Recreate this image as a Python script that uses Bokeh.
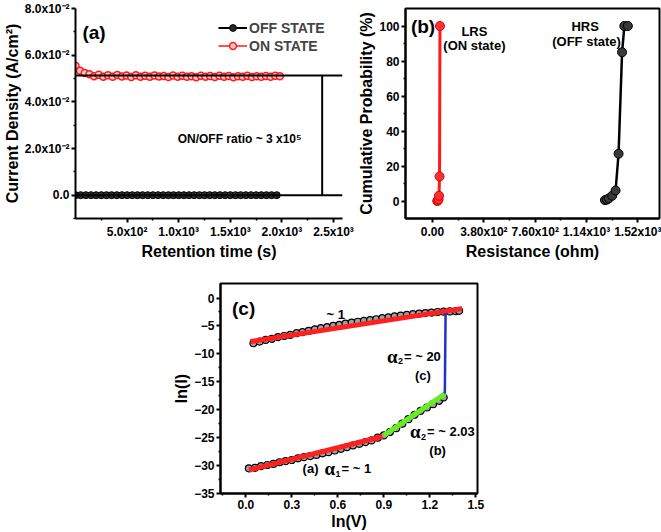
from bokeh.plotting import figure
from bokeh.layouts import column, row
from bokeh.models import FixedTicker, Label, Legend, LegendItem, Spacer, Range1d, Span
from bokeh.embed import file_html
from bokeh.resources import INLINE

SANS = "Liberation Sans"
SERIF = "Liberation Serif"

# ---------------- (a) retention data ----------------
a_time_on = [0, 45, 90, 135, 180, 225, 270, 315, 360, 405, 450, 495, 540, 585, 630,
             675, 720, 765, 810, 855, 900, 945, 990, 1035, 1080, 1125, 1170, 1215,
             1260, 1305, 1350, 1395, 1440, 1485, 1530, 1575, 1620, 1665, 1710, 1755,
             1800, 1845, 1890, 1935, 1980]
a_j_on = [0.0555, 0.0533, 0.0524, 0.0518, 0.0510, 0.0516, 0.0508, 0.0514, 0.0507,
          0.0515, 0.0509, 0.0513, 0.0506, 0.0514, 0.0508, 0.0512, 0.0507, 0.0513,
          0.0509, 0.0511, 0.0506, 0.0513, 0.0508, 0.0512, 0.0507, 0.0510, 0.0505,
          0.0512, 0.0508, 0.0511, 0.0506, 0.0512, 0.0507, 0.0511, 0.0505, 0.0510,
          0.0507, 0.0512, 0.0506, 0.0510, 0.0508, 0.0511, 0.0507, 0.0512, 0.0510]
a_time_off = [0, 50, 100, 150, 200, 250, 300, 350, 400, 450, 500, 550, 600, 650, 700,
              750, 800, 850, 900, 950, 1000, 1050, 1100, 1150, 1200, 1250, 1300, 1350,
              1400, 1450, 1500, 1550, 1600, 1650, 1700, 1750, 1800, 1850, 1900, 1950]
a_j_off = [1.8e-7, 1.7e-7, 1.7e-7, 1.6e-7, 1.7e-7, 1.7e-7, 1.6e-7, 1.7e-7, 1.7e-7,
           1.6e-7, 1.7e-7, 1.7e-7, 1.6e-7, 1.7e-7, 1.7e-7, 1.6e-7, 1.7e-7, 1.7e-7,
           1.6e-7, 1.7e-7, 1.7e-7, 1.6e-7, 1.7e-7, 1.7e-7, 1.6e-7, 1.7e-7, 1.7e-7,
           1.6e-7, 1.7e-7, 1.7e-7, 1.6e-7, 1.7e-7, 1.7e-7, 1.6e-7, 1.7e-7, 1.7e-7,
           1.6e-7, 1.7e-7, 1.7e-7, 1.7e-7]
a_on_level = 0.0513
a_off_level = 0.0
a_ratio_time = 2390
a_xticks = [500, 1000, 1500, 2000, 2500]
a_xtick_labels = ["5.0x10²", "1.0x10³", "1.5x10³", "2.0x10³", "2.5x10³"]
a_xminor = [250, 750, 1250, 1750, 2250]
a_yticks = [0.0, 0.02, 0.04, 0.06, 0.08]
a_ytick_labels = ["0.0", "2.0x10⁻²", "4.0x10⁻²", "6.0x10⁻²", "8.0x10⁻²"]
a_yminor = [-0.01, 0.01, 0.03, 0.05, 0.07]

# ---------------- (b) cumulative probability ----------------
b_lrs_res = [35, 40, 45, 48, 52, 55]
b_lrs_prob = [0, 0.3, 1, 3, 14, 100]
b_hrs_res = [1276, 1290, 1305, 1330, 1355, 1377, 1403, 1420, 1446]
b_hrs_prob = [0.5, 0.8, 1.5, 3, 6, 27, 85, 100, 100]
b_xticks = [0, 380, 760, 1140, 1520]
b_xtick_labels = ["0.00", "3.80x10²", "7.60x10²", "1.14x10³", "1.52x10³"]
b_xminor = [190, 570, 950, 1330]
b_yticks = [0, 20, 40, 60, 80, 100]
b_yminor = [10, 30, 50, 70, 90]

# ---------------- (c) ln(I)-ln(V) ----------------
c_up_v = [0.05, 0.09, 0.13, 0.17, 0.21, 0.25, 0.29, 0.33, 0.37, 0.41, 0.45, 0.49,
          0.53, 0.57, 0.61, 0.65, 0.69, 0.73, 0.77, 0.81, 0.85, 0.89, 0.93, 0.97,
          1.01, 1.05, 1.09, 1.13, 1.17, 1.21, 1.25, 1.29, 1.33, 1.37, 1.39]
c_up_i = [-8.1, -7.8, -7.5, -7.3, -7.0, -6.8, -6.6, -6.3, -6.1, -5.9, -5.6, -5.4,
          -5.2, -5.0, -4.8, -4.6, -4.4, -4.25, -4.1, -3.95, -3.8, -3.6, -3.45, -3.3,
          -3.15, -3.0, -2.9, -2.8, -2.7, -2.6, -2.5, -2.45, -2.4, -2.35, -2.3]
c_lo_v = [0.02, 0.06, 0.10, 0.14, 0.18, 0.22, 0.26, 0.30, 0.34, 0.38, 0.42, 0.46,
          0.50, 0.54, 0.58, 0.62, 0.66, 0.70, 0.74, 0.78, 0.82, 0.86, 0.90, 0.94,
          0.98, 1.02, 1.06, 1.10, 1.14, 1.18, 1.22, 1.26, 1.29]
c_lo_i = [-30.5, -30.4, -30.1, -29.9, -29.7, -29.4, -29.2, -29.0, -28.7, -28.5,
          -28.3, -28.1, -27.8, -27.6, -27.3, -27.0, -26.7, -26.4, -26.1, -25.8,
          -25.5, -25.0, -24.6, -24.0, -23.3, -22.5, -21.7, -20.9, -20.2, -19.6,
          -19.0, -18.4, -17.8]
c_fit1_v = [0.03, 1.41]
c_fit1_i = [-7.8, -1.9]
c_fit2_v = [0.02, 0.89]
c_fit2_i = [-30.8, -24.8]
c_fit3_v = [0.90, 1.30]
c_fit3_i = [-24.6, -17.1]
c_fit4_v = [1.297, 1.302]
c_fit4_i = [-17.1, -2.7]
c_xticks = [0.0, 0.3, 0.6, 0.9, 1.2, 1.5]
c_xtick_labels = ["0.0", "0.3", "0.6", "0.9", "1.2", "1.5"]
c_xminor = [-0.15, 0.15, 0.45, 0.75, 1.05, 1.35]
c_yticks = [-35, -30, -25, -20, -15, -10, -5, 0]
c_yminor = [-32.5, -27.5, -22.5, -17.5, -12.5, -7.5, -2.5]


def style_axes(p):
    for ax in (p.xaxis[0], p.yaxis[0]):
        ax.axis_line_width = 2
        ax.axis_line_color = "black"
        ax.major_tick_line_width = 2
        ax.minor_tick_line_width = 1.5
        ax.major_tick_out = 4
        ax.major_tick_in = 0
        ax.minor_tick_out = 2
        ax.minor_tick_in = 0
        ax.major_label_text_font = SANS
        ax.major_label_text_font_style = "bold"
        ax.major_label_text_font_size = "12px"
        ax.major_label_text_color = "black"
        ax.axis_label_text_font = SANS
        ax.axis_label_text_font_style = "bold"
        ax.axis_label_text_font_size = "16px"
        ax.axis_label_text_color = "black"
        ax.major_label_standoff = 2
        ax.axis_label_standoff = 1
    p.xgrid.visible = False
    p.ygrid.visible = False


def lab(p, x, y, text, size="13px", font=SANS, style="bold", align="left",
        baseline="middle", xo=0, yo=0):
    p.add_layout(Label(x=x, y=y, text=text, text_font=font, text_font_style=style,
                       text_font_size=size, text_align=align, text_baseline=baseline,
                       x_offset=xo, y_offset=yo, text_color="black"))


# ---------------- figure (a) ----------------
pa = figure(width=355, height=262, output_backend="svg", toolbar_location=None,
            x_range=Range1d(0, 2587), y_range=Range1d(-0.01, 0.08),
            min_border_left=73, min_border_right=13, min_border_top=8,
            min_border_bottom=42, x_axis_label="Retention time (s)",
            y_axis_label="Current Density (A/cm²)")
pa.outline_line_color = None
style_axes(pa)
pa.xaxis[0].ticker = FixedTicker(ticks=a_xticks, minor_ticks=a_xminor)
pa.xaxis[0].major_label_overrides = dict(zip(a_xticks, a_xtick_labels))
pa.yaxis[0].ticker = FixedTicker(ticks=a_yticks, minor_ticks=a_yminor)
pa.yaxis[0].major_label_overrides = dict(zip(a_yticks, a_ytick_labels))

pa.segment(x0=[a_ratio_time], y0=[a_off_level], x1=[a_ratio_time], y1=[a_on_level],
           line_color="black", line_width=2)

l_off = pa.line(a_time_off, a_j_off, line_color="black", line_width=2)
s_off = pa.scatter(a_time_off, a_j_off, size=7, fill_color="#2a2a2a", line_color="black",
                   line_width=1)
l_on = pa.line(a_time_on, a_j_on, line_color="#ff1a1a", line_width=1.5)
s_on = pa.scatter(a_time_on, a_j_on, size=7, fill_color="#ffc8c8", line_color="#ff1a1a",
                  line_width=1.5)
pa.add_layout(Span(location=a_on_level, dimension="width", line_color="black", line_width=2))
pa.add_layout(Span(location=a_off_level, dimension="width", line_color="black", line_width=2))

leg = Legend(items=[LegendItem(label="OFF STATE", renderers=[l_off, s_off]),
                    LegendItem(label="ON STATE", renderers=[l_on, s_on])],
             location=(143, 164))
leg.border_line_color = None
leg.background_fill_alpha = 0
leg.label_text_font = SANS
leg.label_text_font_style = "bold"
leg.label_text_font_size = "14px"
leg.glyph_width = 29
leg.glyph_height = 17
leg.label_height = 17
leg.spacing = 1
leg.padding = 0
leg.margin = 0
leg.label_standoff = 2
pa.add_layout(leg)

lab(pa, 67, 0.0698, "(a)", size="19px")
lab(pa, 990, 0.0241, "ON/OFF ratio ~ 3 x10⁵", size="12px")

# ---------------- figure (b) ----------------
pb = figure(width=306, height=262, output_backend="svg", toolbar_location=None,
            x_range=Range1d(-200, 1680), y_range=Range1d(-10, 110),
            min_border_left=42, min_border_right=2, min_border_top=7,
            min_border_bottom=44, x_axis_label="Resistance (ohm)",
            y_axis_label="Cumulative Probability (%)")
pb.outline_line_color = "black"
pb.outline_line_width = 2
style_axes(pb)
pb.xaxis[0].ticker = FixedTicker(ticks=b_xticks, minor_ticks=b_xminor)
pb.xaxis[0].major_label_overrides = dict(zip(b_xticks, b_xtick_labels))
pb.yaxis[0].ticker = FixedTicker(ticks=b_yticks, minor_ticks=b_yminor)

pb.line(b_lrs_res, b_lrs_prob, line_color="#ff1a1a", line_width=3)
pb.scatter(b_lrs_res, b_lrs_prob, size=9, fill_color="#ff3030", line_color="#e00000",
           line_width=1)
pb.line(b_hrs_res, b_hrs_prob, line_color="black", line_width=2.5)
pb.scatter(b_hrs_res, b_hrs_prob, size=9, fill_color="#3a3a3a", line_color="black",
           line_width=1)

lab(pb, -160, 100, "(b)", size="19px")
lab(pb, 310, 97, "LRS", size="13px", align="center")
lab(pb, 310, 89, "(ON state)", size="13px", align="center")
lab(pb, 1130, 100, "HRS", size="13px", align="center")
lab(pb, 1140, 91, "(OFF state)", size="13px", align="center")

# ---------------- figure (c) ----------------
pc = figure(width=315, height=270, output_backend="svg", toolbar_location=None,
            x_range=Range1d(-0.165, 1.51), y_range=Range1d(-35, 2.6),
            min_border_left=45, min_border_right=8, min_border_top=21,
            min_border_bottom=36, x_axis_label="ln(V)", y_axis_label="ln(I)")
pc.outline_line_color = "black"
pc.outline_line_width = 2
style_axes(pc)
pc.xaxis[0].ticker = FixedTicker(ticks=c_xticks, minor_ticks=c_xminor)
pc.xaxis[0].major_label_overrides = dict(zip(c_xticks, c_xtick_labels))
pc.yaxis[0].ticker = FixedTicker(ticks=c_yticks, minor_ticks=c_yminor)

pc.scatter(c_up_v, c_up_i, size=7, fill_color="#a0a0a0", line_color="black", line_width=1.2)
pc.scatter(c_lo_v, c_lo_i, size=7, fill_color="#a0a0a0", line_color="black", line_width=1.2)
pc.line(c_fit1_v, c_fit1_i, line_color="#ff2020", line_width=5)
pc.line(c_fit2_v, c_fit2_i, line_color="#ff2020", line_width=5)
pc.line(c_fit3_v, c_fit3_i, line_color="#66ee22", line_width=5)
pc.line(c_fit4_v, c_fit4_i, line_color="#2233cc", line_width=2.5)

lab(pc, -0.09, -1.8, "(c)", size="19px")
lab(pc, 0.586, -3.0, "~ 1", size="13px", align="center")
lab(pc, 0.92, -10.4, "α", size="19px", font=SERIF)
lab(pc, 0.92, -10.4, "2", size="9px", xo=11, yo=-5)
lab(pc, 0.92, -10.4, "= ~ 20", size="13px", xo=17)
lab(pc, 1.154, -13.9, "(c)", size="13px", align="center")
lab(pc, 1.07, -23.9, "α", size="19px", font=SERIF)
lab(pc, 1.07, -23.9, "2", size="9px", xo=11, yo=-5)
lab(pc, 1.07, -23.9, "= ~ 2.03", size="13px", xo=17)
lab(pc, 1.25, -27.3, "(b)", size="13px", align="center")
lab(pc, 0.37, -30.6, "(a)", size="13px")
lab(pc, 0.37, -30.6, "α", size="19px", font=SERIF, xo=22)
lab(pc, 0.37, -30.6, "1", size="9px", xo=33, yo=-5)
lab(pc, 0.37, -30.6, "= ~ 1", size="13px", xo=39)

layout = column(row(pa, pb), row(Spacer(width=170, height=270), pc))

open("out.html", "w").write(file_html(layout, INLINE))
